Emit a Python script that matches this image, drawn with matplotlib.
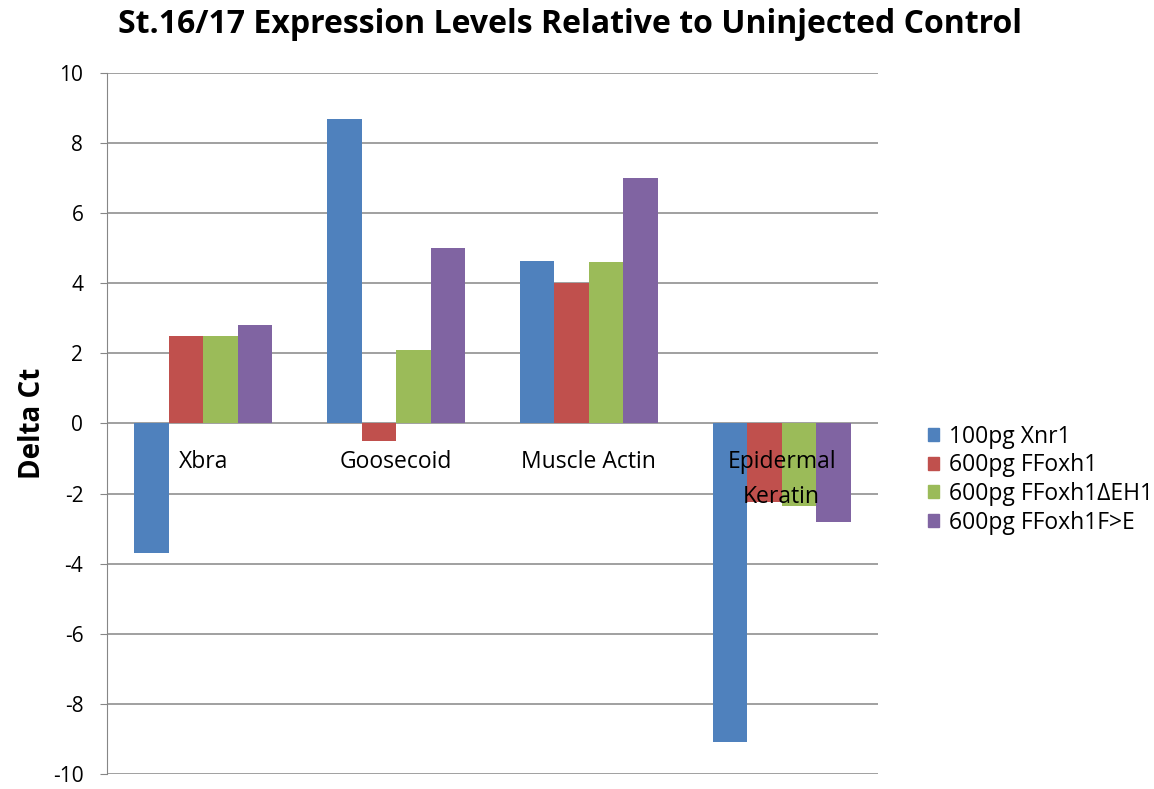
import matplotlib.pyplot as plt
import numpy as np
from matplotlib.patches import Patch

plt.rcParams['font.family'] = ['Open Sans', 'DejaVu Sans']
plt.rcParams['axes.unicode_minus'] = False

categories = ['Xbra', 'Goosecoid', 'Muscle Actin', 'Epidermal\nKeratin']
series_names = ['100pg Xnr1', '600pg FFoxh1', '600pg FFoxh1\u0394EH1', '600pg FFoxh1F>E']
xnr1 = [-3.7, 8.7, 4.65, -9.1]
ffoxh1 = [2.5, -0.5, 4.0, -2.25]
ffoxh1_deh1 = [2.5, 2.1, 4.6, -2.35]
ffoxh1_fe = [2.8, 5.0, 7.0, -2.8]
colors = ['#4F81BD', '#C0504D', '#9BBB59', '#8064A2']

fig = plt.figure(figsize=(11.54, 7.89), dpi=100)
ax = fig.add_axes([0.0927, 0.019, 0.6681, 0.8885])

x = np.arange(len(categories))
w = 0.179
for i, vals in enumerate([xnr1, ffoxh1, ffoxh1_deh1, ffoxh1_fe]):
    ax.bar(x + (i - 1.5) * w, vals, w, color=colors[i], zorder=3)

ax.set_xlim(-0.5, 3.5)
ax.set_ylim(-10, 10)
ax.set_yticks(np.arange(-10, 11, 2))
ax.set_xticks([])
ax.yaxis.grid(True, color='#868686', linewidth=1.1, zorder=0)
ax.set_axisbelow(True)
for s in ['top', 'right', 'bottom']:
    ax.spines[s].set_visible(False)
ax.spines['left'].set_color('#868686')
ax.tick_params(axis='y', length=5, color='#868686', labelsize=15, pad=12)

# category labels sit just under the zero line
for xi, lab in zip(x, categories):
    ax.text(xi, -0.75, lab, ha='center', va='top', fontsize=16.5, linespacing=1.65, zorder=4)

ax.set_ylabel('Delta Ct', fontsize=20, fontweight='bold', labelpad=4)
fig.suptitle('St.16/17 Expression Levels Relative to Uninjected Control',
             fontsize=23, fontweight='bold', x=0.494, y=0.99)

handles = [Patch(color=c) for c in colors]
fig.legend(handles, series_names, loc='center left', bbox_to_anchor=(0.786, 0.392),
           frameon=False, fontsize=16.5, handlelength=0.5, handleheight=0.5,
           handletextpad=0.45, labelspacing=0.2)

fig.savefig('out.png', dpi=100)
